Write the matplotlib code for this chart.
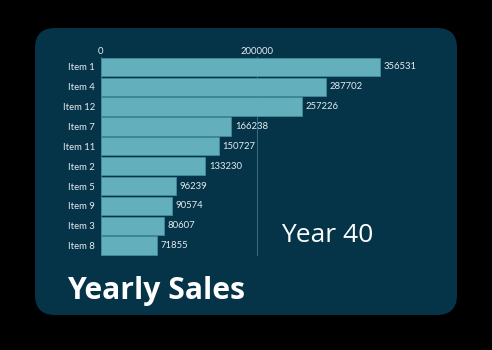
import matplotlib.pyplot as plt
from matplotlib.patches import FancyBboxPatch

items = ["Item 1", "Item 4", "Item 12", "Item 7", "Item 11",
         "Item 2", "Item 5", "Item 9", "Item 3", "Item 8"]
sales = [356531, 287702, 257226, 166238, 150727,
         133230, 96239, 90574, 80607, 71855]
ticks = [0, 200000]
year_label = "Year 40"
title = "Yearly Sales"

W, H = 492, 350
fig = plt.figure(figsize=(W / 100, H / 100), dpi=100)
fig.patch.set_facecolor("black")

# фон - скругленная панель, рисуем в пиксельных координатах
bg = fig.add_axes([0, 0, 1, 1])
bg.set_xlim(0, W)
bg.set_ylim(H, 0)
bg.axis("off")
bg.add_patch(FancyBboxPatch((35 + 20, 28 + 20), 422 - 40, 287 - 40,
                            boxstyle="round,pad=20", fc="#053449", ec="none"))
bg.text(67, 299, title, fontsize=21.7, fontweight="bold", color="white",
        family="Open Sans", va="baseline")
bg.text(281, 242, year_label, fontsize=19, color="white",
        family="Open Sans", va="baseline")

# оси с барами
x0, x1 = 100.7, 437
y_top, y_bot = 57, 255.5
ax = fig.add_axes([x0 / W, 1 - y_bot / H, (x1 - x0) / W, (y_bot - y_top) / H])
ax.set_facecolor("none")
ax.set_xlim(0, (x1 - x0) / 156.6 * 200000)
pos = list(range(len(items)))
ax.barh(pos, sales, height=0.92, color="#64afbc", edgecolor="#3f8c9a",
        linewidth=0.6, zorder=3)
ax.set_ylim(len(items) - 0.5, -0.5)
for p, v in zip(pos, sales):
    ax.text(v + 5000, p, str(v), va="center", ha="left", fontsize=6.8,
            color="#e4ecef", family="Lato", zorder=4)

ax.set_yticks(pos)
ax.set_yticklabels(items, fontsize=6.8, color="#e4ecef", family="Lato")
ax.set_xticks(ticks)
ax.set_xticklabels([str(t) for t in ticks], fontsize=6.8, color="#e4ecef",
                   family="Lato")
ax.xaxis.tick_top()
ax.tick_params(length=0, pad=4)
ax.tick_params(axis="x", pad=1)
ax.grid(axis="x", color="#336a7e", linewidth=0.8, zorder=0)
for s in ax.spines.values():
    s.set_visible(False)

fig.savefig("out.png", dpi=100, facecolor=fig.get_facecolor())
